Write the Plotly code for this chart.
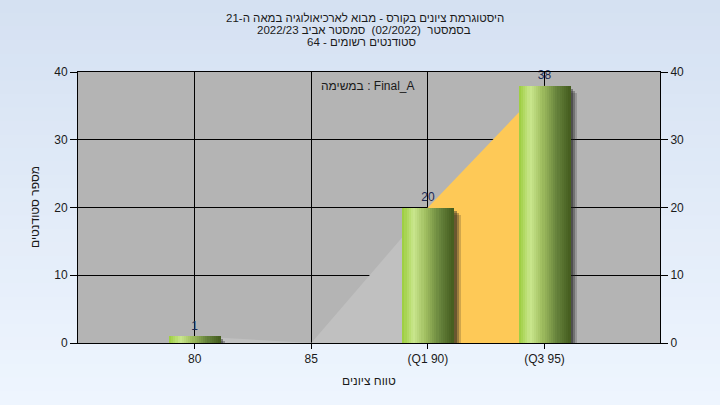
import plotly.graph_objects as go

# ---------------- data ----------------
categories = ["80", "85", "(Q1 90)", "(Q3 95)"]
students = [1, 0, 20, 38]
segment_colors = ["#c0c0c0", "#c0c0c0", "#fec957"]
y_tick_values = [0, 10, 20, 30, 40]

title_line1 = "היסטוגרמת ציונים בקורס - מבוא לארכיאולוגיה במאה ה-21"
title_line2 = "בסמסטר&nbsp; (02/2022)&nbsp; סמסטר אביב 2022/23"
title_line3 = "סטודנטים רשומים - 64"
x_title = "טווח ציונים"
y_title = "מספר סטודנטים"
task_label = "במשימה : Final_A"

# ---------------- styling ----------------
FONT = "Liberation Sans, DejaVu Sans, Arial, sans-serif"
TXT = "#1a1a1a"
BAR_W = 0.44
N_SLICES = 24
PLOT_H_PX = 271.0
PLOT_W_PX = 582.0
X_RANGE = [-1.0, 3.99]
Y_RANGE = [0, 40]
UNIT_PX = PLOT_W_PX / (X_RANGE[1] - X_RANGE[0])

grad_stops = [(0.0, (155, 205, 60)), (0.22, (202, 231, 142)), (0.45, (160, 190, 96)),
              (0.75, (100, 128, 58)), (1.0, (68, 92, 30))]


def grad(t):
    for (t0, c0), (t1, c1) in zip(grad_stops[:-1], grad_stops[1:]):
        if t0 <= t <= t1:
            f = (t - t0) / (t1 - t0)
            return "rgb(%d,%d,%d)" % tuple(round(a + (b - a) * f) for a, b in zip(c0, c1))
    return "rgb(%d,%d,%d)" % grad_stops[-1][1]


x = list(range(len(categories)))
fig = go.Figure()

# background area segments (base subplot)
for i in range(len(students) - 1):
    fig.add_trace(go.Scatter(
        x=[x[i], x[i + 1]], y=[students[i], students[i + 1]],
        mode="lines", line=dict(width=0), fill="tozeroy",
        fillcolor=segment_colors[i], hoverinfo="skip", showlegend=False,
        xaxis="x", yaxis="y"))

# bar shadows (overlay subplot)
for dpx, alpha in [(7, 0.2), (5, 0.3), (3, 0.4)]:
    dy = dpx * (Y_RANGE[1] - Y_RANGE[0]) / PLOT_H_PX
    fig.add_trace(go.Bar(
        x=x, y=[max(v - dy, 0) for v in students],
        width=BAR_W, offset=-BAR_W / 2 + dpx / UNIT_PX,
        marker=dict(color="rgba(30,30,30,%.2f)" % alpha, line=dict(width=0)),
        hoverinfo="skip", showlegend=False, xaxis="x", yaxis="y2"))

# gradient bars as vertical slices
sw = BAR_W / N_SLICES
for k in range(N_SLICES):
    fig.add_trace(go.Bar(
        x=x, y=students, width=sw * 1.15, offset=-BAR_W / 2 + k * sw,
        marker=dict(color=grad((k + 0.5) / N_SLICES), line=dict(width=0)),
        hoverinfo="skip", showlegend=False, xaxis="x", yaxis="y2"))

# value labels (zero counts unlabeled)
fig.add_trace(go.Scatter(
    x=x, y=students, mode="markers+text",
    text=[str(v) if v else "" for v in students],
    marker=dict(size=4, opacity=0), textposition="top center",
    textfont=dict(family=FONT, size=12, color="#1c2a55"),
    cliponaxis=False, hoverinfo="skip", showlegend=False,
    xaxis="x", yaxis="y2"))

# paper background gradient bands
shapes = []
top_c, bot_c = (213, 225, 242), (238, 245, 254)
y_top, y_bot = 343 / PLOT_H_PX, (343 - 405) / PLOT_H_PX
NB = 30
for b in range(NB):
    f = b / (NB - 1)
    c = tuple(round(a + (bb - a) * f) for a, bb in zip(top_c, bot_c))
    y0 = y_top + (y_bot - y_top) * b / NB
    y1 = y_top + (y_bot - y_top) * (b + 1) / NB
    shapes.append(dict(type="rect", xref="paper", yref="paper", x0=-0.2, x1=1.2,
                       y0=y1 - 0.002, y1=y0 + 0.002, layer="below",
                       fillcolor="rgb(%d,%d,%d)" % c, line=dict(width=0)))
shapes.append(dict(type="rect", xref="paper", yref="paper", x0=0, x1=1, y0=0, y1=1,
                   layer="below", fillcolor="#b4b4b4", line=dict(width=0)))


def py(ypx):
    return (343 - ypx) / PLOT_H_PX


def px(xpx):
    return (xpx - 78) / PLOT_W_PX


annotations = [
    dict(text=title_line1, x=px(365), y=py(18), size=11.5),
    dict(text=title_line2, x=px(364), y=py(30.5), size=11.5),
    dict(text=title_line3, x=px(361), y=py(41.5), size=11.5),
    dict(text=task_label, x=px(368), y=py(86), size=12),
    dict(text=x_title, x=px(369), y=py(381), size=12),
    dict(text=y_title, x=px(35), y=py(207), textangle=-90, size=12),
]
for a in annotations:
    s = a.pop("size")
    a.update(xref="paper", yref="paper", showarrow=False, xanchor="center",
             yanchor="middle", font=dict(family=FONT, size=s, color=TXT))

axis_common = dict(showline=True, linecolor="black", linewidth=1, zeroline=False,
                   ticks="outside", tickcolor="black", tickwidth=1,
                   tickfont=dict(family=FONT, size=12, color=TXT), fixedrange=True)

fig.update_layout(
    width=720, height=405,
    margin=dict(l=78, r=60, t=72, b=62),
    paper_bgcolor="#e2ebf7", plot_bgcolor="#b4b4b4",
    barmode="overlay", bargap=0, showlegend=False,
    font=dict(family=FONT, size=12, color=TXT),
    xaxis=dict(range=X_RANGE, tickvals=x, ticktext=categories, showgrid=True,
               gridcolor="black", gridwidth=1, mirror=True, ticklen=5, **axis_common),
    yaxis=dict(range=Y_RANGE, tickvals=y_tick_values, showgrid=True, gridcolor="black",
               gridwidth=1, ticklen=7, **axis_common),
    yaxis2=dict(range=Y_RANGE, tickvals=y_tick_values, overlaying="y", side="right",
                showgrid=False, ticklen=7, **axis_common),
    shapes=shapes,
    annotations=annotations,
)

fig.write_html("out.html", config={"displayModeBar": False},
               post_script="document.body.style.margin='0px';document.body.style.overflow='hidden';")
